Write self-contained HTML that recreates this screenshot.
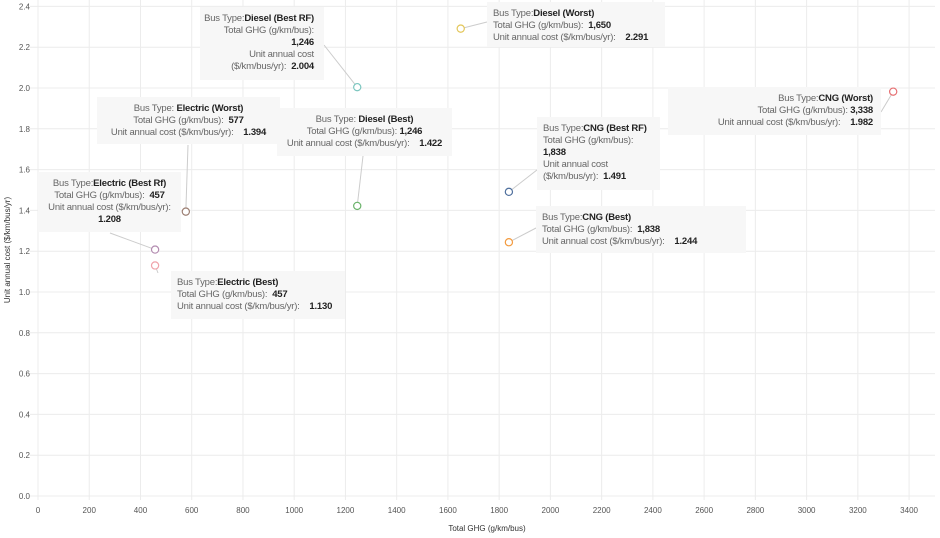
<!DOCTYPE html>
<html><head><meta charset="utf-8">
<style>
body{margin:0;width:940px;height:538px;background:#fff;font-family:"Liberation Sans",sans-serif;overflow:hidden;position:relative}
svg{position:absolute;left:0;top:0}
.tip{position:absolute;background:#f7f7f7;font-size:9.5px;color:#666;line-height:12px;padding:6px 6px;box-sizing:border-box;letter-spacing:-0.2px;white-space:nowrap}
.tip b{color:#222}
.c{text-align:center}.r{text-align:right}.l{text-align:left}
</style></head><body>
<svg id="chart" width="940" height="538"></svg>

<div class="tip r" style="left:200px;top:7px;width:124px;height:73px;padding-right:10px;padding-left:2px">Bus Type:<b>Diesel (Best RF)</b><br>Total GHG (g/km/bus):<br><b>1,246</b><br>Unit annual cost<br>($/km/bus/yr): &nbsp;<b>2.004</b></div>
<div class="tip l" style="left:487px;top:2px;width:178px;height:45px;padding-left:6px">Bus Type:<b>Diesel (Worst)</b><br>Total GHG (g/km/bus): &nbsp;<b>1,650</b><br>Unit annual cost ($/km/bus/yr): &nbsp;&nbsp;&nbsp;<b>2.291</b></div>
<div class="tip c" style="left:97px;top:97px;width:183px;height:47px">Bus Type: <b>Electric (Worst)</b><br>Total GHG (g/km/bus): &nbsp;<b>577</b><br>Unit annual cost ($/km/bus/yr): &nbsp;&nbsp;&nbsp;<b>1.394</b></div>
<div class="tip c" style="left:277px;top:108px;width:175px;height:48px">Bus Type: <b>Diesel (Best)</b><br>Total GHG (g/km/bus): <b>1,246</b><br>Unit annual cost ($/km/bus/yr): &nbsp;&nbsp;&nbsp;<b>1.422</b></div>
<div class="tip r" style="left:668px;top:87px;width:213px;height:48px;padding-right:8px">Bus Type:<b>CNG (Worst)</b><br>Total GHG (g/km/bus): <b>3,338</b><br>Unit annual cost ($/km/bus/yr): &nbsp;&nbsp;&nbsp;<b>1.982</b></div>
<div class="tip l" style="left:537px;top:117px;width:123px;height:73px">Bus Type:<b>CNG (Best RF)</b><br>Total GHG (g/km/bus):<br><b>1,838</b><br>Unit annual cost<br>($/km/bus/yr): &nbsp;<b>1.491</b></div>
<div class="tip c" style="left:38px;top:172px;width:143px;height:60px">Bus Type:<b>Electric (Best Rf)</b><br>Total GHG (g/km/bus): &nbsp;<b>457</b><br>Unit annual cost ($/km/bus/yr):<br><b>1.208</b></div>
<div class="tip l" style="left:536px;top:206px;width:210px;height:47px">Bus Type:<b>CNG (Best)</b><br>Total GHG (g/km/bus): &nbsp;<b>1,838</b><br>Unit annual cost ($/km/bus/yr): &nbsp;&nbsp;&nbsp;<b>1.244</b></div>
<div class="tip l" style="left:171px;top:271px;width:174px;height:48px">Bus Type:<b>Electric (Best)</b><br>Total GHG (g/km/bus): &nbsp;<b>457</b><br>Unit annual cost ($/km/bus/yr): &nbsp;&nbsp;&nbsp;<b>1.130</b></div>

<script>
const names=["diesel-best-rf","diesel-worst","electric-worst","diesel-best","cng-worst","cng-best-rf","electric-best-rf","cng-best","electric-best"];
const ghg=[1246,1650,577,1246,3338,1838,457,1838,457];
const cost=[2.004,2.291,1.394,1.422,1.982,1.491,1.208,1.244,1.130];
const colors=["#7cc6bf","#e3c659","#9b7e72","#6bb36b","#e66f72","#4d6e9c","#b38bb0","#f39a3e","#f0a3aa"];
const xTicks=[0,200,400,600,800,1000,1200,1400,1600,1800,2000,2200,2400,2600,2800,3000,3200,3400];
const yTicks=[0,0.2,0.4,0.6,0.8,1.0,1.2,1.4,1.6,1.8,2.0,2.2,2.4];
const anchors=[[324,45],[487,22],[188,145],[363,156],[881,112],[560,152],[110,233],[536,228],[158,273]];
const X=v=>38+v*0.2562, Y=v=>496-v*204;
const svg=document.getElementById('chart'),NS='http://www.w3.org/2000/svg';
function mk(t,a){const e=document.createElementNS(NS,t);for(const k in a)e.setAttribute(k,a[k]);svg.appendChild(e);return e;}
xTicks.forEach(t=>{const g=mk('line',{x1:X(t),x2:X(t),y1:0,y2:500,stroke:'#ececec'});


const tx=mk('text',{x:X(t),y:513,'font-size':8,fill:'#555','text-anchor':'middle'});tx.textContent=t;

});
yTicks.forEach(t=>{const g=mk('line',{x1:30,x2:935,y1:Y(t),y2:Y(t),stroke:'#ececec'});


const tx=mk('text',{x:30,y:Y(t)+3,'font-size':8,fill:'#555','text-anchor':'end'});tx.textContent=t.toFixed(1);

});
const xt=mk('text',{x:487,y:531,'font-size':8,fill:'#333','text-anchor':'middle'});xt.textContent='Total GHG (g/km/bus)';


const yt=mk('text',{x:10,y:250,'font-size':8,fill:'#333','text-anchor':'middle',transform:'rotate(-90 10 250)'});yt.textContent='Unit annual cost ($/km/bus/yr)';


ghg.forEach((g,i)=>{const px=X(g),py=Y(cost[i]);
const l=mk('line',{x1:px,y1:py,x2:anchors[i][0],y2:anchors[i][1],stroke:'#ccc','stroke-width':1});


const c=mk('circle',{cx:px,cy:py,r:3.6,fill:'#fff',stroke:colors[i],'stroke-width':1.2});

});
</script>
</body></html>
